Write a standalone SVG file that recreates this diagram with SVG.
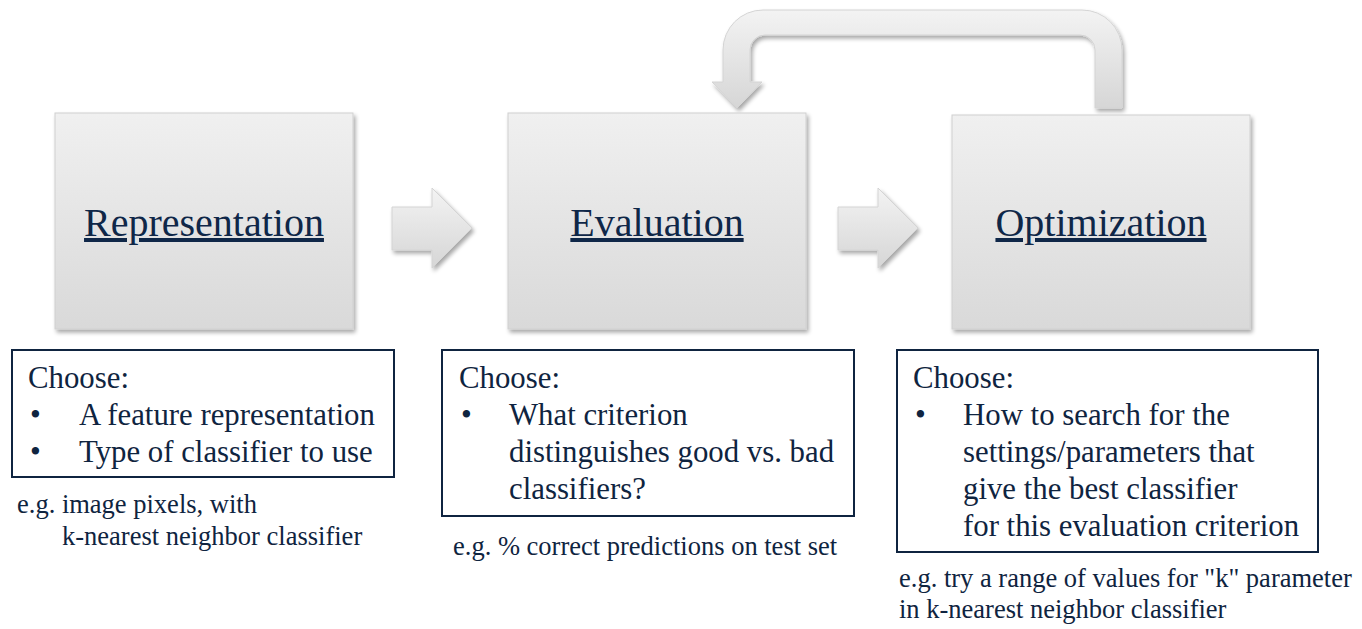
<svg xmlns="http://www.w3.org/2000/svg" width="1362" height="629" viewBox="0 0 1362 629">
<defs>
<linearGradient id="boxg" x1="0" y1="0" x2="0" y2="1">
<stop offset="0" stop-color="#f0f0f0"/>
<stop offset="1" stop-color="#d9d9d9"/>
</linearGradient>
<linearGradient id="arrg" x1="0" y1="0" x2="0" y2="1">
<stop offset="0" stop-color="#f3f3f3"/>
<stop offset="1" stop-color="#d6d6d6"/>
</linearGradient>
<filter id="sh" x="-10%" y="-10%" width="125%" height="125%">
<feGaussianBlur in="SourceAlpha" stdDeviation="2"/>
<feOffset dx="2" dy="3" result="b"/>
<feComponentTransfer><feFuncA type="linear" slope="0.35"/></feComponentTransfer>
<feMerge><feMergeNode/><feMergeNode in="SourceGraphic"/></feMerge>
</filter>
</defs>
<style>
.box{fill:url(#boxg);stroke:#d0d0d0;stroke-width:1;filter:url(#sh)}
.arr{fill:url(#arrg);stroke:#d4d4d4;stroke-width:1;filter:url(#sh)}
.title{font-family:"Liberation Serif","Times New Roman",serif;font-size:40px;fill:#0f2748;text-decoration:underline;text-anchor:middle}
.tb{fill:#fff;stroke:#0f2440;stroke-width:2}
.t{font-family:"Liberation Serif","Times New Roman",serif;font-size:30.8px;fill:#0f2440}
.s{font-family:"Liberation Serif","Times New Roman",serif;font-size:26.5px;fill:#0f2440}
</style>

<g id="connectors">
<path class="arr" d="M392,207 H432 V188 L472,228 L432,268 V250 H392 Z"/>
<path class="arr" d="M838,207 H878 V188 L918,228 L878,268 V250 H838 Z"/>
<path class="arr" d="M1122,108 V50 A40,40 0 0 0 1082,10 H763 A40,40 0 0 0 723,50 V82 H712 L737,108 L762,82 H750 V50 A15,15 0 0 1 765,35 H1080 A15,15 0 0 1 1095,50 V108 Z"/>
</g>

<g id="representation">
<rect class="box" x="55" y="113" width="298" height="216"/>
<text class="title" x="204" y="236">Representation</text>
</g>
<g id="evaluation">
<rect class="box" x="508" y="113" width="298" height="216"/>
<text class="title" x="657" y="236">Evaluation</text>
</g>
<g id="optimization">
<rect class="box" x="952" y="115" width="298" height="214"/>
<text class="title" x="1101" y="236">Optimization</text>
</g>

<g id="rep-notes">
<rect class="tb" x="12" y="350" width="382" height="127"/>
<text class="t" x="28" y="388">Choose:</text>
<text class="t" x="30" y="425">•</text>
<text class="t" x="79" y="425">A feature representation</text>
<text class="t" x="30" y="462">•</text>
<text class="t" x="79" y="462">Type of classifier to use</text>
<text class="s" x="17" y="513">e.g. image pixels, with</text>
<text class="s" x="62" y="545">k-nearest neighbor classifier</text>
</g>

<g id="eval-notes">
<rect class="tb" x="442" y="350" width="412" height="166"/>
<text class="t" x="459" y="388">Choose:</text>
<text class="t" x="461" y="425">•</text>
<text class="t" x="509" y="425">What criterion</text>
<text class="t" x="509" y="462">distinguishes good vs. bad</text>
<text class="t" x="509" y="499">classifiers?</text>
<text class="s" x="453" y="555">e.g. % correct predictions on test set</text>
</g>

<g id="opt-notes">
<rect class="tb" x="897" y="350" width="421" height="202"/>
<text class="t" x="913" y="388">Choose:</text>
<text class="t" x="915" y="425">•</text>
<text class="t" x="963" y="425">How to search for the</text>
<text class="t" x="963" y="462">settings/parameters that</text>
<text class="t" x="963" y="499">give the best classifier</text>
<text class="t" x="963" y="536">for this evaluation criterion</text>
<text class="s" x="899" y="587">e.g. try a range of values for "k" parameter</text>
<text class="s" x="899" y="618">in k-nearest neighbor classifier</text>
</g>
</svg>
